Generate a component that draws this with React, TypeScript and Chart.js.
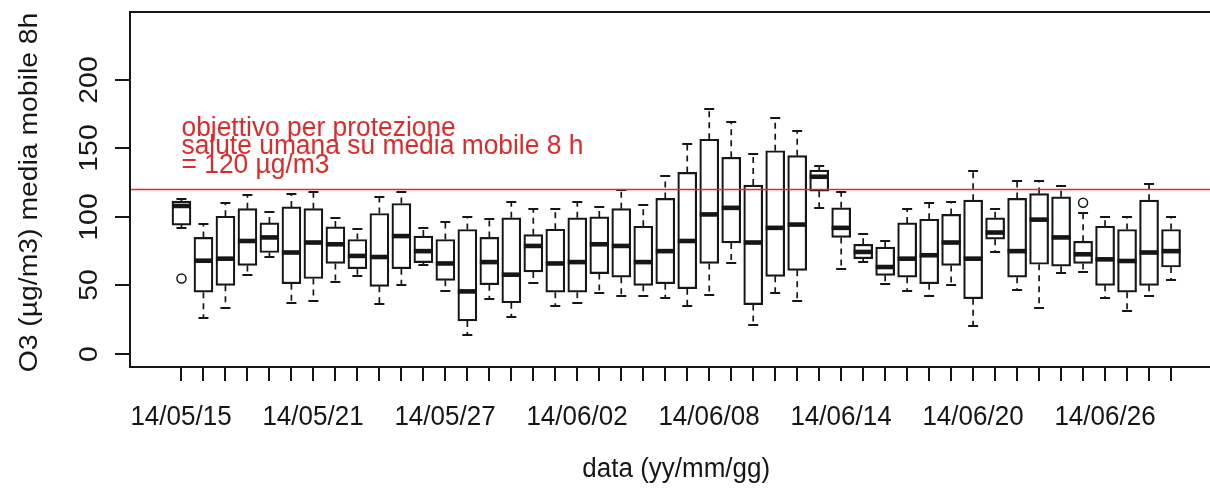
import React, { useEffect, useRef } from "react";
import { Chart, registerables } from "chart.js";

Chart.register(...registerables);

// ---- data ----
const dates = [
  "14/05/15", "14/05/16", "14/05/17", "14/05/18", "14/05/19", "14/05/20", "14/05/21", "14/05/22",
  "14/05/23", "14/05/24", "14/05/25", "14/05/26", "14/05/27", "14/05/28", "14/05/29", "14/05/30",
  "14/05/31", "14/06/01", "14/06/02", "14/06/03", "14/06/04", "14/06/05", "14/06/06", "14/06/07",
  "14/06/08", "14/06/09", "14/06/10", "14/06/11", "14/06/12", "14/06/13", "14/06/14", "14/06/15",
  "14/06/16", "14/06/17", "14/06/18", "14/06/19", "14/06/20", "14/06/21", "14/06/22", "14/06/23",
  "14/06/24", "14/06/25", "14/06/26", "14/06/27", "14/06/28", "14/06/29",
];

const whiskerLow = [
  92, 26.3, 33.7, 57.5, 70.7, 37.3, 38.5, 52.4, 56.6, 36.6, 50.5, 65, 45.6, 13.4, 39.8, 26.8,
  51.7, 34.8, 37.3, 44.4, 42, 42, 40.7, 34.6, 43.2, 66, 21.2, 44.4, 38.3, 106.6, 62.2, 67,
  51.2, 45.6, 42, 50.5, 20.2, 74.4, 46.9, 33.4, 59, 59.8, 40.7, 31.2, 42, 53.7,
];
const quartile1 = [
  94, 45, 50, 64.6, 74, 51.2, 55, 66, 62.2, 49.3, 62.2, 66.6, 53.7, 24, 50.5, 37.3,
  59.8, 45, 45, 58.6, 56, 50, 51.2, 47.6, 66, 81, 36, 56.6, 61, 118.8, 85, 69.5,
  57.3, 56, 51.2, 64.6, 40.3, 83.7, 56, 65.4, 64, 66, 50, 45, 50, 63.4,
];
const medians = [
  108, 68, 69.5, 82.4, 85, 74, 81.3, 80, 71.5, 70.7, 86, 75, 66, 45.6, 67, 57.8,
  78.8, 66, 67, 80, 78.8, 67, 75, 82.4, 101.8, 106.6, 81.3, 92, 94.4, 129.3, 92, 74.4,
  63.4, 69.5, 72, 81.3, 69.5, 88.6, 75, 98, 85, 72.7, 69, 67.8, 74, 75,
];
const quartile3 = [
  111.5, 85, 100.5, 106, 95.6, 107.3, 106, 92.7, 83.5, 102.5, 109.8, 86, 83.5, 90.8, 85, 99.3,
  87, 91, 99.3, 100, 106, 93.2, 113.5, 132.5, 156.7, 143.5, 123.2, 148.3, 144.7, 134.2, 106.6, 80,
  78, 95.6, 98.3, 101.8, 112.2, 99.3, 113.5, 117, 114.7, 82.2, 93.2, 90.8, 112.2, 90.8,
];
const whiskerHigh = [
  113, 94.5, 110, 116, 103.7, 116.6, 118, 99.3, 91, 114.7, 118.3, 92, 96.3, 100, 98.8, 111,
  106, 106, 111, 107.3, 120, 108.6, 129.8, 153, 178.6, 169.6, 146, 172, 162.7, 137.3, 118.3, 87.3,
  82.4, 106, 109.8, 111, 133.7, 106, 126.4, 126.4, 122.7, 103.2, 100, 100, 124, 100,
];
const outlierDates = ["14/05/15", "14/06/25"];
const outlierValues = [55, 110.3];

const yTicks = [0, 50, 100, 150, 200];
const xLabelEvery = 6;
const thresholdValue = 120;
const thresholdText = [
  "objettivo per protezione",
  "salute umana su media mobile 8 h",
  "= 120 µg/m3",
];
const xTitle = "data (yy/mm/gg)";
const yTitle = "O3 (µg/m3) media mobile 8h";

// ---- styling ----
const FONT = "26px 'Liberation Sans', Arial, sans-serif";
const STRETCH = 1.09; // the reference text is taller than it is wide
const INK = "#161616";
const RED = "#dd2b2b";
const X_MIN = -1.34;
const X_MAX = 48.34;
const Y_MIN = -9.6;
const Y_MAX = 249.6;

function drawText(
  ctx: CanvasRenderingContext2D,
  text: string,
  x: number,
  y: number,
  align: CanvasTextAlign,
  vertical = false,
  widen = 1
) {
  ctx.save();
  ctx.translate(x, y);
  if (vertical) {
    ctx.rotate(-Math.PI / 2);
    ctx.scale(STRETCH, 1);
  } else {
    ctx.scale(widen, STRETCH);
  }
  ctx.textAlign = align;
  ctx.textBaseline = "alphabetic";
  ctx.fillText(text, 0, 0);
  ctx.restore();
}

const rStylePlugin = {
  id: "rStyle",
  beforeDatasetsDraw(chart: any) {
    const { ctx } = chart;
    const xs = chart.scales.x;
    const ys = chart.scales.y;
    ctx.save();
    ctx.strokeStyle = INK;
    dates.forEach((_, i) => {
      const x = xs.getPixelForValue(i + 1);
      // dashed whiskers
      ctx.setLineDash([6, 5]);
      ctx.lineWidth = 1.7;
      ctx.beginPath();
      ctx.moveTo(x, ys.getPixelForValue(quartile3[i]));
      ctx.lineTo(x, ys.getPixelForValue(whiskerHigh[i]));
      ctx.moveTo(x, ys.getPixelForValue(quartile1[i]));
      ctx.lineTo(x, ys.getPixelForValue(whiskerLow[i]));
      ctx.stroke();
      // staples
      ctx.setLineDash([]);
      ctx.lineWidth = 2;
      ctx.beginPath();
      const yh = Math.round(ys.getPixelForValue(whiskerHigh[i]));
      const yl = Math.round(ys.getPixelForValue(whiskerLow[i]));
      ctx.moveTo(x - 5, yh);
      ctx.lineTo(x + 5, yh);
      ctx.moveTo(x - 5, yl);
      ctx.lineTo(x + 5, yl);
      ctx.stroke();
    });
    ctx.restore();
  },
  afterDatasetsDraw(chart: any) {
    const { ctx, chartArea } = chart;
    const xs = chart.scales.x;
    const ys = chart.scales.y;
    ctx.save();
    // medians
    ctx.fillStyle = INK;
    dates.forEach((_, i) => {
      const x = xs.getPixelForValue(i + 1);
      const y = ys.getPixelForValue(medians[i]);
      ctx.fillRect(x - 9.5, y - 2.3, 19, 4.6);
    });
    // threshold line
    const yt = ys.getPixelForValue(thresholdValue);
    ctx.strokeStyle = RED;
    ctx.lineWidth = 1.6;
    ctx.beginPath();
    ctx.moveTo(chartArea.left, yt);
    ctx.lineTo(chartArea.right, yt);
    ctx.stroke();
    // threshold text
    ctx.fillStyle = RED;
    ctx.font = FONT;
    const tx = xs.getPixelForValue(1);
    const offsets = [-54, -35.5, -17];
    thresholdText.forEach((t, k) => drawText(ctx, t, tx, yt + offsets[k], "left", false, 1.015));

    // plot box
    ctx.strokeStyle = INK;
    ctx.lineWidth = 2;
    ctx.strokeRect(chartArea.left, chartArea.top, chartArea.right - chartArea.left, chartArea.bottom - chartArea.top);

    // y axis ticks + labels
    ctx.fillStyle = INK;
    ctx.font = FONT;
    yTicks.forEach((v) => {
      const y = Math.round(ys.getPixelForValue(v));
      ctx.beginPath();
      ctx.moveTo(chartArea.left - 15, y);
      ctx.lineTo(chartArea.left, y);
      ctx.stroke();
      drawText(ctx, String(v), 97, y, "center", true);
    });

    // x axis ticks + labels
    dates.forEach((d, i) => {
      const x = Math.round(xs.getPixelForValue(i + 1));
      ctx.beginPath();
      ctx.moveTo(x, chartArea.bottom);
      ctx.lineTo(x, chartArea.bottom + 14);
      ctx.stroke();
      if (i % xLabelEvery === 0) drawText(ctx, d, x, 424.5, "center");
    });

    // axis titles
    drawText(ctx, xTitle, (chartArea.left + chartArea.right) / 2, 477, "center");
    drawText(ctx, yTitle, 37, (chartArea.top + chartArea.bottom) / 2 + 3, "center", true);

    ctx.restore();
  },
};

export default function App() {
  const canvasRef = useRef<HTMLCanvasElement | null>(null);

  useEffect(() => {
    const canvas = canvasRef.current;
    if (!canvas) return;
    const boxData = dates.map((_, i) => ({ x: i + 1, y: [quartile1[i], quartile3[i]] }));
    const outData = outlierDates.map((d, k) => ({ x: dates.indexOf(d) + 1, y: outlierValues[k] }));
    const chart = new Chart(canvas, {
      type: "bar",
      data: {
        datasets: [
          {
            type: "bar",
            data: boxData as any,
            backgroundColor: "#ffffff",
            borderColor: INK,
            borderWidth: 2.2,
            borderSkipped: false,
            barThickness: 19,
            grouped: false,
          } as any,
          {
            type: "scatter",
            data: outData as any,
            pointStyle: "circle",
            pointRadius: 4.5,
            backgroundColor: "#ffffff",
            borderColor: INK,
            borderWidth: 1.5,
          } as any,
        ],
      },
      options: {
        animation: false,
        responsive: false,
        maintainAspectRatio: false,
        devicePixelRatio: 1,
        events: [],
        layout: { padding: { left: 130, top: 12, right: 1240 - 1222.5, bottom: 493 - 367 } },
        plugins: { legend: { display: false }, tooltip: { enabled: false } },
        scales: {
          x: { type: "linear", min: X_MIN, max: X_MAX, offset: false, display: false },
          y: { type: "linear", min: Y_MIN, max: Y_MAX, display: false },
        },
      },
      plugins: [rStylePlugin],
    });
    return () => chart.destroy();
  }, []);

  return (
    <div
      style={{
        position: "absolute",
        left: 0,
        top: 0,
        width: 1210,
        height: 493,
        overflow: "hidden",
        background: "#ffffff",
      }}
    >
      <canvas ref={canvasRef} width={1240} height={493} style={{ display: "block" }} />
    </div>
  );
}
